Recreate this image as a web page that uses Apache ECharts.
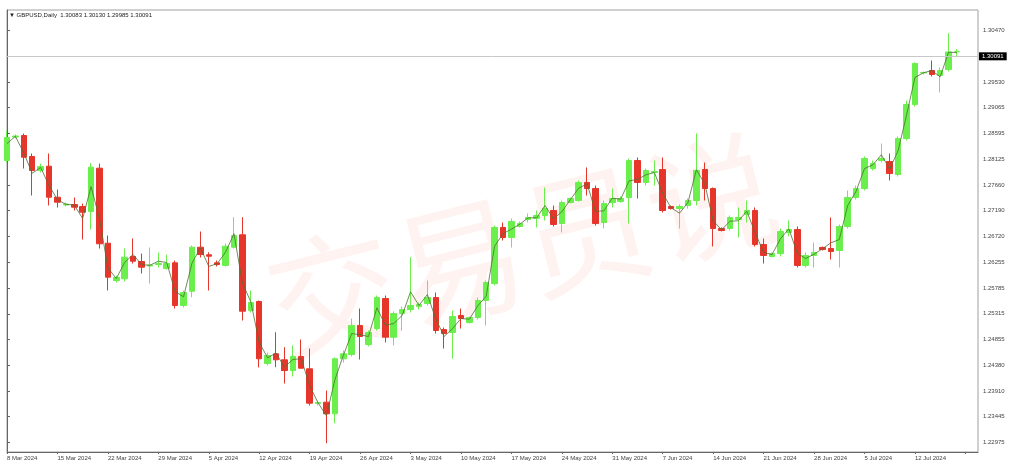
<!DOCTYPE html>
<html>
<head>
<meta charset="utf-8">
<script src="https://cdn.jsdelivr.net/npm/echarts@6/dist/echarts.min.js"></script>
<style>
html,body{margin:0;padding:0;background:#fff;}
#c{width:1024px;height:471px;}
</style>
</head>
<body>
<div id="c"></div>
<script>
const dates = ['8 Mar 2024','10 Mar 2024','11 Mar 2024','12 Mar 2024','13 Mar 2024','14 Mar 2024','15 Mar 2024','17 Mar 2024','18 Mar 2024','19 Mar 2024','20 Mar 2024','21 Mar 2024','22 Mar 2024','24 Mar 2024','25 Mar 2024','26 Mar 2024','27 Mar 2024','28 Mar 2024','29 Mar 2024','31 Mar 2024','1 Apr 2024','2 Apr 2024','3 Apr 2024','4 Apr 2024','5 Apr 2024','7 Apr 2024','8 Apr 2024','9 Apr 2024','10 Apr 2024','11 Apr 2024','12 Apr 2024','14 Apr 2024','15 Apr 2024','16 Apr 2024','17 Apr 2024','18 Apr 2024','19 Apr 2024','21 Apr 2024','22 Apr 2024','23 Apr 2024','24 Apr 2024','25 Apr 2024','26 Apr 2024','28 Apr 2024','29 Apr 2024','30 Apr 2024','1 May 2024','2 May 2024','3 May 2024','5 May 2024','6 May 2024','7 May 2024','8 May 2024','9 May 2024','10 May 2024','12 May 2024','13 May 2024','14 May 2024','15 May 2024','16 May 2024','17 May 2024','19 May 2024','20 May 2024','21 May 2024','22 May 2024','23 May 2024','24 May 2024','26 May 2024','27 May 2024','28 May 2024','29 May 2024','30 May 2024','31 May 2024','2 Jun 2024','3 Jun 2024','4 Jun 2024','5 Jun 2024','6 Jun 2024','7 Jun 2024','9 Jun 2024','10 Jun 2024','11 Jun 2024','12 Jun 2024','13 Jun 2024','14 Jun 2024','16 Jun 2024','17 Jun 2024','18 Jun 2024','19 Jun 2024','20 Jun 2024','21 Jun 2024','23 Jun 2024','24 Jun 2024','25 Jun 2024','26 Jun 2024','27 Jun 2024','28 Jun 2024','30 Jun 2024','1 Jul 2024','2 Jul 2024','3 Jul 2024','4 Jul 2024','5 Jul 2024','7 Jul 2024','8 Jul 2024','9 Jul 2024','10 Jul 2024','11 Jul 2024','12 Jul 2024','14 Jul 2024','15 Jul 2024','16 Jul 2024','17 Jul 2024','18 Jul 2024'];

const opens = [1.28104,1.28532,1.28559,1.28177,1.27922,1.28000,1.27436,1.27294,1.27303,1.27267,
1.27176,1.27964,1.26599,1.25920,1.25951,1.26357,1.26266,1.26184,1.26211,1.26138,
1.26242,1.25465,1.25725,1.26526,1.26388,1.26242,1.26193,1.26526,1.26752,1.25374,
1.25538,1.24409,1.24586,1.24477,1.24282,1.24537,1.24313,1.23681,1.23705,1.23494,
1.24495,1.24573,1.25101,1.24755,1.25046,1.25592,1.24888,1.25319,1.25392,1.25447,
1.25501,1.25611,1.25028,1.24974,1.25283,1.25156,1.25247,1.25556,1.25865,1.26885,
1.26703,1.26903,1.27030,1.27048,1.27103,1.27194,1.26957,1.27340,1.27376,1.27704,
1.27594,1.26976,1.27340,1.27358,1.27431,1.28104,1.27704,1.27886,1.27940,1.27267,
1.27230,1.27285,1.27376,1.27940,1.27594,1.26866,1.26866,1.27030,1.27121,1.27194,
1.26575,1.26357,1.26411,1.26794,1.26848,1.26193,1.26375,1.26521,1.26502,1.26466,
1.26903,1.27431,1.27594,1.27958,1.28104,1.28086,1.27849,1.28504,1.29123,1.29697,
1.29742,1.29651,1.29760,1.30083];

const closes = [1.28523,1.28550,1.28164,1.27922,1.27995,1.27436,1.27345,1.27312,1.27254,1.27163,
1.27982,1.26588,1.25980,1.25975,1.26344,1.26271,1.26162,1.26202,1.26229,1.26229,
1.25465,1.25702,1.26526,1.26393,1.26362,1.26211,1.26544,1.26739,1.25361,1.25520,
1.24495,1.24555,1.24477,1.24282,1.24537,1.24324,1.23687,1.23700,1.23494,1.24495,
1.24586,1.25101,1.24901,1.24974,1.25611,1.24888,1.25319,1.25392,1.25465,1.25483,
1.25611,1.25010,1.24955,1.25265,1.25228,1.25247,1.25556,1.25884,1.26885,1.26703,
1.26994,1.26957,1.27067,1.27103,1.27230,1.26939,1.27340,1.27412,1.27704,1.27594,
1.26957,1.27321,1.27412,1.27412,1.28104,1.27704,1.27922,1.27904,1.27194,1.27230,
1.27267,1.27376,1.27922,1.27594,1.26866,1.26830,1.27067,1.27067,1.27194,1.26575,
1.26375,1.26411,1.26812,1.26848,1.26193,1.26375,1.26430,1.26484,1.26448,1.26903,
1.27431,1.27594,1.28140,1.28049,1.28140,1.27867,1.28504,1.29123,1.29869,1.29706,
1.29669,1.29742,1.30079,1.30091];

const highs = [1.28650,1.28577,1.28595,1.28231,1.28049,1.28231,1.27576,1.27340,1.27431,1.27321,
1.28055,1.28049,1.26739,1.26011,1.26502,1.26684,1.26411,1.26521,1.26430,1.26393,
1.26284,1.25738,1.26557,1.26812,1.26435,1.26284,1.26593,1.27072,1.27072,1.25738,
1.25556,1.24610,1.24979,1.24706,1.24737,1.24846,1.24682,1.23736,1.23918,1.24519,
1.24646,1.25228,1.25410,1.25010,1.25647,1.25647,1.25356,1.25447,1.26344,1.25520,
1.25920,1.25702,1.25065,1.25374,1.25410,1.25265,1.25611,1.25920,1.26921,1.26976,
1.27048,1.26994,1.27139,1.27194,1.27613,1.27285,1.27376,1.27431,1.27740,1.27977,
1.27649,1.27376,1.27594,1.27449,1.28140,1.28159,1.27958,1.28104,1.28159,1.27285,
1.27303,1.27412,1.28595,1.28068,1.27613,1.26885,1.27103,1.27249,1.27376,1.27249,
1.26684,1.26430,1.26866,1.27012,1.26903,1.26430,1.26612,1.26539,1.27067,1.26939,
1.27558,1.27649,1.28177,1.28104,1.28413,1.28231,1.28541,1.29196,1.29888,1.29724,
1.29924,1.29797,1.30421,1.30130];

const lows = [1.28068,1.28504,1.27958,1.27467,1.27886,1.27285,1.27249,1.27267,1.27194,1.26666,
1.26848,1.26502,1.25738,1.25884,1.25902,1.26229,1.26047,1.25865,1.26157,1.26120,
1.25410,1.25429,1.25616,1.26339,1.25738,1.26175,1.26175,1.26502,1.25192,1.25338,
1.24337,1.24373,1.24342,1.24045,1.24173,1.24318,1.23645,1.23645,1.22959,1.23323,
1.24428,1.24537,1.24482,1.24719,1.25010,1.24792,1.24737,1.25010,1.25338,1.25392,
1.25465,1.24955,1.24682,1.24500,1.25046,1.25137,1.25210,1.25101,1.25829,1.26648,
1.26521,1.26885,1.26976,1.26885,1.27012,1.26903,1.26794,1.27321,1.27358,1.27467,
1.26921,1.26866,1.27249,1.27340,1.26957,1.27412,1.27649,1.27649,1.27158,1.27212,
1.26866,1.27230,1.27285,1.27376,1.26539,1.26812,1.26830,1.26703,1.26976,1.26539,
1.26229,1.26339,1.26357,1.26721,1.26157,1.26157,1.26157,1.26466,1.26302,1.26157,
1.26866,1.27394,1.27558,1.27922,1.28068,1.27740,1.27813,1.28468,1.29087,1.29669,
1.29633,1.29342,1.29724,1.29985];

const priceLine = [1.28413,1.28544,1.28239,1.27873,1.27977,1.27651,1.27391,1.27307,1.27292,1.27050,
1.27629,1.27047,1.26153,1.25956,1.26249,1.26395,1.26208,1.26197,1.26271,1.26248,
1.25720,1.25623,1.26233,1.26515,1.26178,1.26224,1.26437,1.26772,1.25875,1.25532,
1.24795,1.24513,1.24599,1.24344,1.24482,1.24497,1.24005,1.23694,1.23458,1.24113,
1.24553,1.24955,1.24932,1.24901,1.25423,1.25108,1.25137,1.25283,1.25716,1.25465,
1.25665,1.25223,1.24901,1.25046,1.25228,1.25216,1.25460,1.25634,1.26544,1.26775,
1.26854,1.26945,1.27061,1.27061,1.27285,1.27043,1.27170,1.27389,1.27600,1.27680,
1.27176,1.27189,1.27418,1.27400,1.27735,1.27758,1.27844,1.27886,1.27503,1.27243,
1.27145,1.27340,1.27935,1.27680,1.27007,1.26843,1.26999,1.27007,1.27181,1.26788,
1.26430,1.26393,1.26679,1.26861,1.26417,1.26320,1.26399,1.26497,1.26606,1.26666,
1.27285,1.27545,1.27958,1.28026,1.28208,1.27946,1.28286,1.28928,1.29615,1.29700,
1.29742,1.29627,1.30075,1.30069];

const priceTicks = ['1.22975','1.23445','1.23910','1.24380','1.24855','1.25315','1.25785','1.26255','1.26720','1.27190','1.27660','1.28125','1.28595','1.29065','1.29530','1.30470'];
const currentPrice = 1.30091;
const titleText = '\u25BC GBPUSD,Daily  1.30083 1.30130 1.29985 1.30091';
const watermark = '交易员说';

const FONT = 'Liberation Sans, DejaVu Sans, sans-serif';
const tickVals = priceTicks.map(Number);

const chart = echarts.init(document.getElementById('c'), null, {renderer: 'canvas'});
chart.setOption({
  animation: false,
  backgroundColor: '#ffffff',
  title: {
    text: titleText, left: 9, top: 12, padding: 0,
    textStyle: {fontSize: 6, fontWeight: 'normal', color: '#222', fontFamily: FONT}
  },
  graphic: [{
    type: 'text', x: 522, y: 246, rotation: 0.245, z: -10, silent: true,
    style: {text: watermark, fontSize: 130, fontFamily: 'Noto Sans CJK SC',
      fill: 'rgba(240,90,60,0.075)', align: 'center', verticalAlign: 'middle',
      textAlign: 'center', textVerticalAlign: 'middle'}
  }],
  grid: {left: 7, right: 46, top: 10, bottom: 19, show: true, borderColor: '#a0a0a0', borderWidth: 1},
  xAxis: {
    type: 'value', min: 0, max: 115.5, interval: 6,
    splitLine: {show: false},
    axisLine: {show: true, lineStyle: {color: '#666'}},
    axisTick: {show: true, length: 2, lineStyle: {color: '#666'}},
    axisLabel: {
      fontSize: 6, color: '#444', fontFamily: FONT, margin: 3, align: 'left',
      showMaxLabel: false,
      formatter: v => (Number.isInteger(v) && dates[v]) ? dates[v] : ''
    }
  },
  yAxis: {
    type: 'value', position: 'right', min: 1.22799, max: 1.30843, scale: true,
    splitLine: {show: false},
    axisLine: {show: true, lineStyle: {color: '#666'}},
    axisTick: {show: true, length: 3, customValues: tickVals, lineStyle: {color: '#666'}},
    axisLabel: {customValues: tickVals, fontSize: 6, color: '#444', fontFamily: FONT, margin: 5,
      formatter: v => v.toFixed(5)}
  },
  series: [{
    type: 'candlestick',
    data: dates.map((d, i) => [i, opens[i], closes[i], lows[i], highs[i]]),
    encode: {x: 0, y: [1, 2, 3, 4]},
    barWidth: 6,
    clip: true,
    itemStyle: {color: '#6aef4c', color0: '#e6362b', borderColor: '#6aef4c', borderColor0: '#e6362b', borderWidth: 1},
    markLine: {
      silent: true, symbol: 'none', animation: false,
      data: [{yAxis: currentPrice}],
      lineStyle: {color: '#c8c8c8', width: 1, type: 'solid'},
      label: {position: 'end', formatter: currentPrice.toFixed(5), backgroundColor: '#000', color: '#fff',
        fontSize: 6, fontFamily: FONT, padding: [1, 3, 1, 3], distance: 1}
    },
    z: 2
  }, {
    type: 'line',
    data: dates.map((d, i) => [i, priceLine[i]]),
    showSymbol: false, symbol: 'none', silent: true, clip: true,
    lineStyle: {width: 0.8, color: '#4f6f32'},
    z: 3
  }]
});
</script>
</body>
</html>
